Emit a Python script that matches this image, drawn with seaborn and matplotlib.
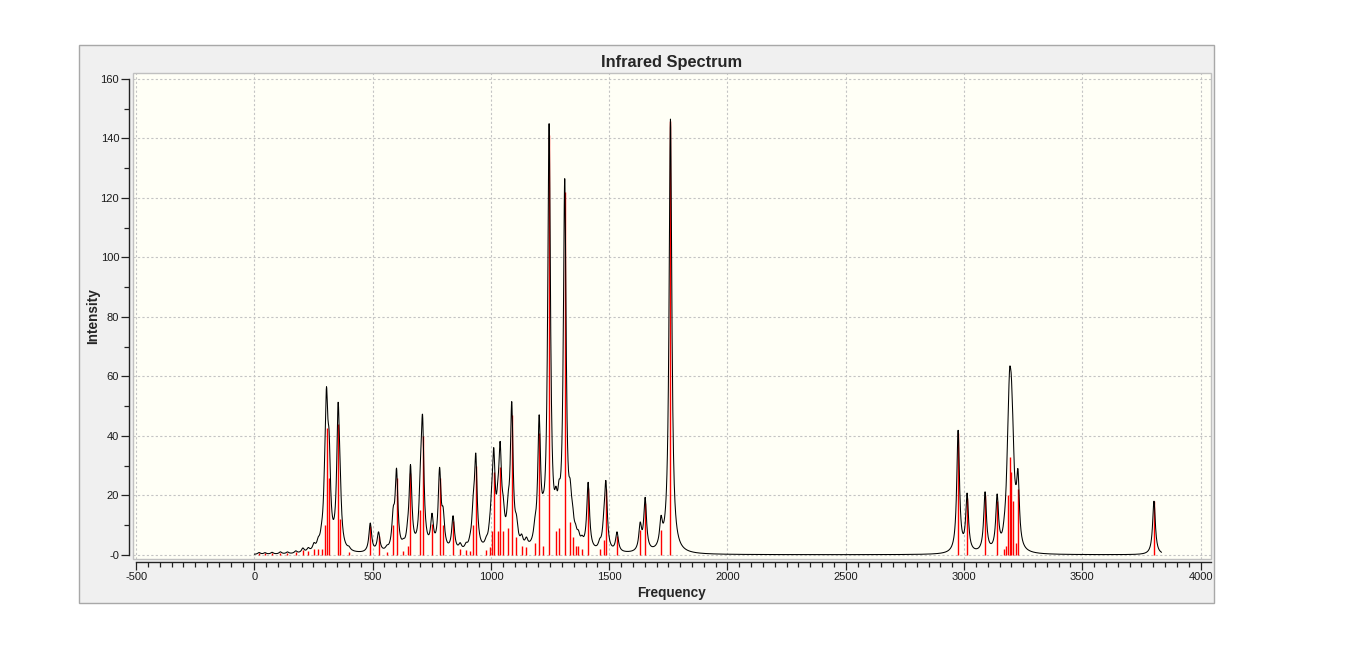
import numpy as np
import pandas as pd
import matplotlib
matplotlib.use("Agg")
import matplotlib.pyplot as plt
import seaborn as sns
from matplotlib.patches import Rectangle
from matplotlib.ticker import MultipleLocator, FuncFormatter

# === Stick spectrum (frequency in cm-1, intensity) ===
stick_freq = [20, 45, 75, 110, 140, 175, 205, 228, 252, 270, 284,
              298, 305, 316, 354, 362, 400, 490, 525, 560, 587, 601,
              630, 648, 660, 702, 711, 751, 783, 798, 840, 870, 895,
              912, 925, 936, 980, 995, 1003, 1012, 1029, 1039, 1052,
              1073, 1088, 1108, 1130, 1150, 1186, 1204, 1221, 1246,
              1275, 1288, 1312, 1335, 1345, 1358, 1370, 1385, 1411,
              1460, 1477, 1486, 1533, 1631, 1652, 1719, 1759,
              2975, 3013, 3089, 3140, 3170, 3178, 3186, 3193, 3200,
              3207, 3218, 3228, 3803]
stick_int = [0.6, 0.5, 0.6, 0.7, 0.6, 0.8, 1.5, 1.2, 2.0, 2.0, 2.0,
             10, 42.5, 26, 44, 12, 0.8, 9.8, 6.5, 1.0, 10, 26,
             1.2, 3, 27.5, 15, 40, 10.5, 26, 10, 11.5, 2, 1.5,
             1.2, 10, 30, 1.5, 2.5, 8, 28, 8, 29.5, 8,
             9, 47, 6, 3, 2.5, 4, 41, 3, 141,
             8, 9, 122, 11, 6, 3, 3, 2, 22.5,
             2, 5, 22, 6.5, 8.5, 17.5, 8.5, 146,
             41, 19, 20, 18, 2, 3, 20, 33, 28,
             18, 4, 22, 18]

x_ticks = [-500, 0, 500, 1000, 1500, 2000, 2500, 3000, 3500, 4000]
y_ticks = [0, 20, 40, 60, 80, 100, 120, 140, 160]

# === Lorentzian broadened envelope from the sticks ===
hwhm = 7.0
grid_x = np.arange(0, 3836, 1.0)
envelope = np.zeros_like(grid_x)
for f, inten in zip(stick_freq, stick_int):
    envelope += inten * hwhm ** 2 / ((grid_x - f) ** 2 + hwhm ** 2)
env_df = pd.DataFrame({"Frequency": grid_x, "Intensity": envelope})

sns.set_theme(style="white")
plt.rcParams['font.family'] = ['Liberation Sans', 'DejaVu Sans']
plt.rcParams['axes.unicode_minus'] = False

W, H = 1345, 667
fig = plt.figure(figsize=(W / 100, H / 100), dpi=100)
fig.patch.set_facecolor("white")

# gray panel behind the chart
fig.patches.append(Rectangle((79 / W, 1 - 603 / H), (1214 - 79) / W, (603 - 45) / H,
                             transform=fig.transFigure, facecolor="#f0f0f0",
                             edgecolor="#a8a8a8", lw=1, zorder=-10))

ax = fig.add_axes([133 / W, 1 - 559 / H, (1211 - 133) / W, (559 - 73) / H])
ax.set_zorder(1)
ax.set_facecolor("#fffff6")

ax.vlines(stick_freq, 0, stick_int, colors="#ff0000", lw=1.0, zorder=2)
sns.lineplot(data=env_df, x="Frequency", y="Intensity", ax=ax, color="black",
             lw=0.75, estimator=None, zorder=3)

ax.set_xlim(-513, 4044)
ax.set_ylim(-1.4, 162)

ax.xaxis.set_major_locator(MultipleLocator(500))
ax.xaxis.set_minor_locator(MultipleLocator(50))
ax.yaxis.set_major_locator(MultipleLocator(20))
ax.yaxis.set_minor_locator(MultipleLocator(10))
ax.set_xticks(x_ticks)
ax.set_yticks(y_ticks)
ax.yaxis.set_major_formatter(FuncFormatter(lambda v, p: "-0" if v == 0 else f"{v:.0f}"))

ax.grid(True, which="major", color="#c4c4c4", linestyle=(0, (2, 2)), lw=0.8)
ax.set_axisbelow(True)

# box around the plotting area
for s in ["top", "right"]:
    ax.spines[s].set_visible(False)
ax.add_patch(Rectangle((0, 0), 1, 1, transform=ax.transAxes, fill=False,
                       edgecolor="#c0c0c0", lw=1, clip_on=False, zorder=4))

ax.spines["left"].set_position(("outward", 3))
ax.spines["bottom"].set_position(("outward", 2.2))
ax.spines["left"].set_bounds(0, 160)
ax.spines["bottom"].set_bounds(-500, 4044)
for s in ["left", "bottom"]:
    ax.spines[s].set_color("#222222")
    ax.spines[s].set_linewidth(1)

ax.tick_params(axis="both", which="major", direction="out", length=5.5, width=0.9,
               color="#222222", labelsize=8, labelcolor="#1a1a1a", pad=1.5)
ax.tick_params(axis="both", which="minor", direction="out", length=3.5, width=0.9,
               color="#222222")
ax.tick_params(axis="x", which="both", bottom=True)
ax.tick_params(axis="y", which="both", left=True)

ax.set_title("Infrared Spectrum", fontsize=11.8, fontweight="bold", pad=4)
ax.set_xlabel("Frequency", fontsize=9.8, fontweight="bold", labelpad=3)
ax.set_ylabel("Intensity", fontsize=9.8, fontweight="bold", labelpad=0)

fig.savefig("out.png", dpi=100)
